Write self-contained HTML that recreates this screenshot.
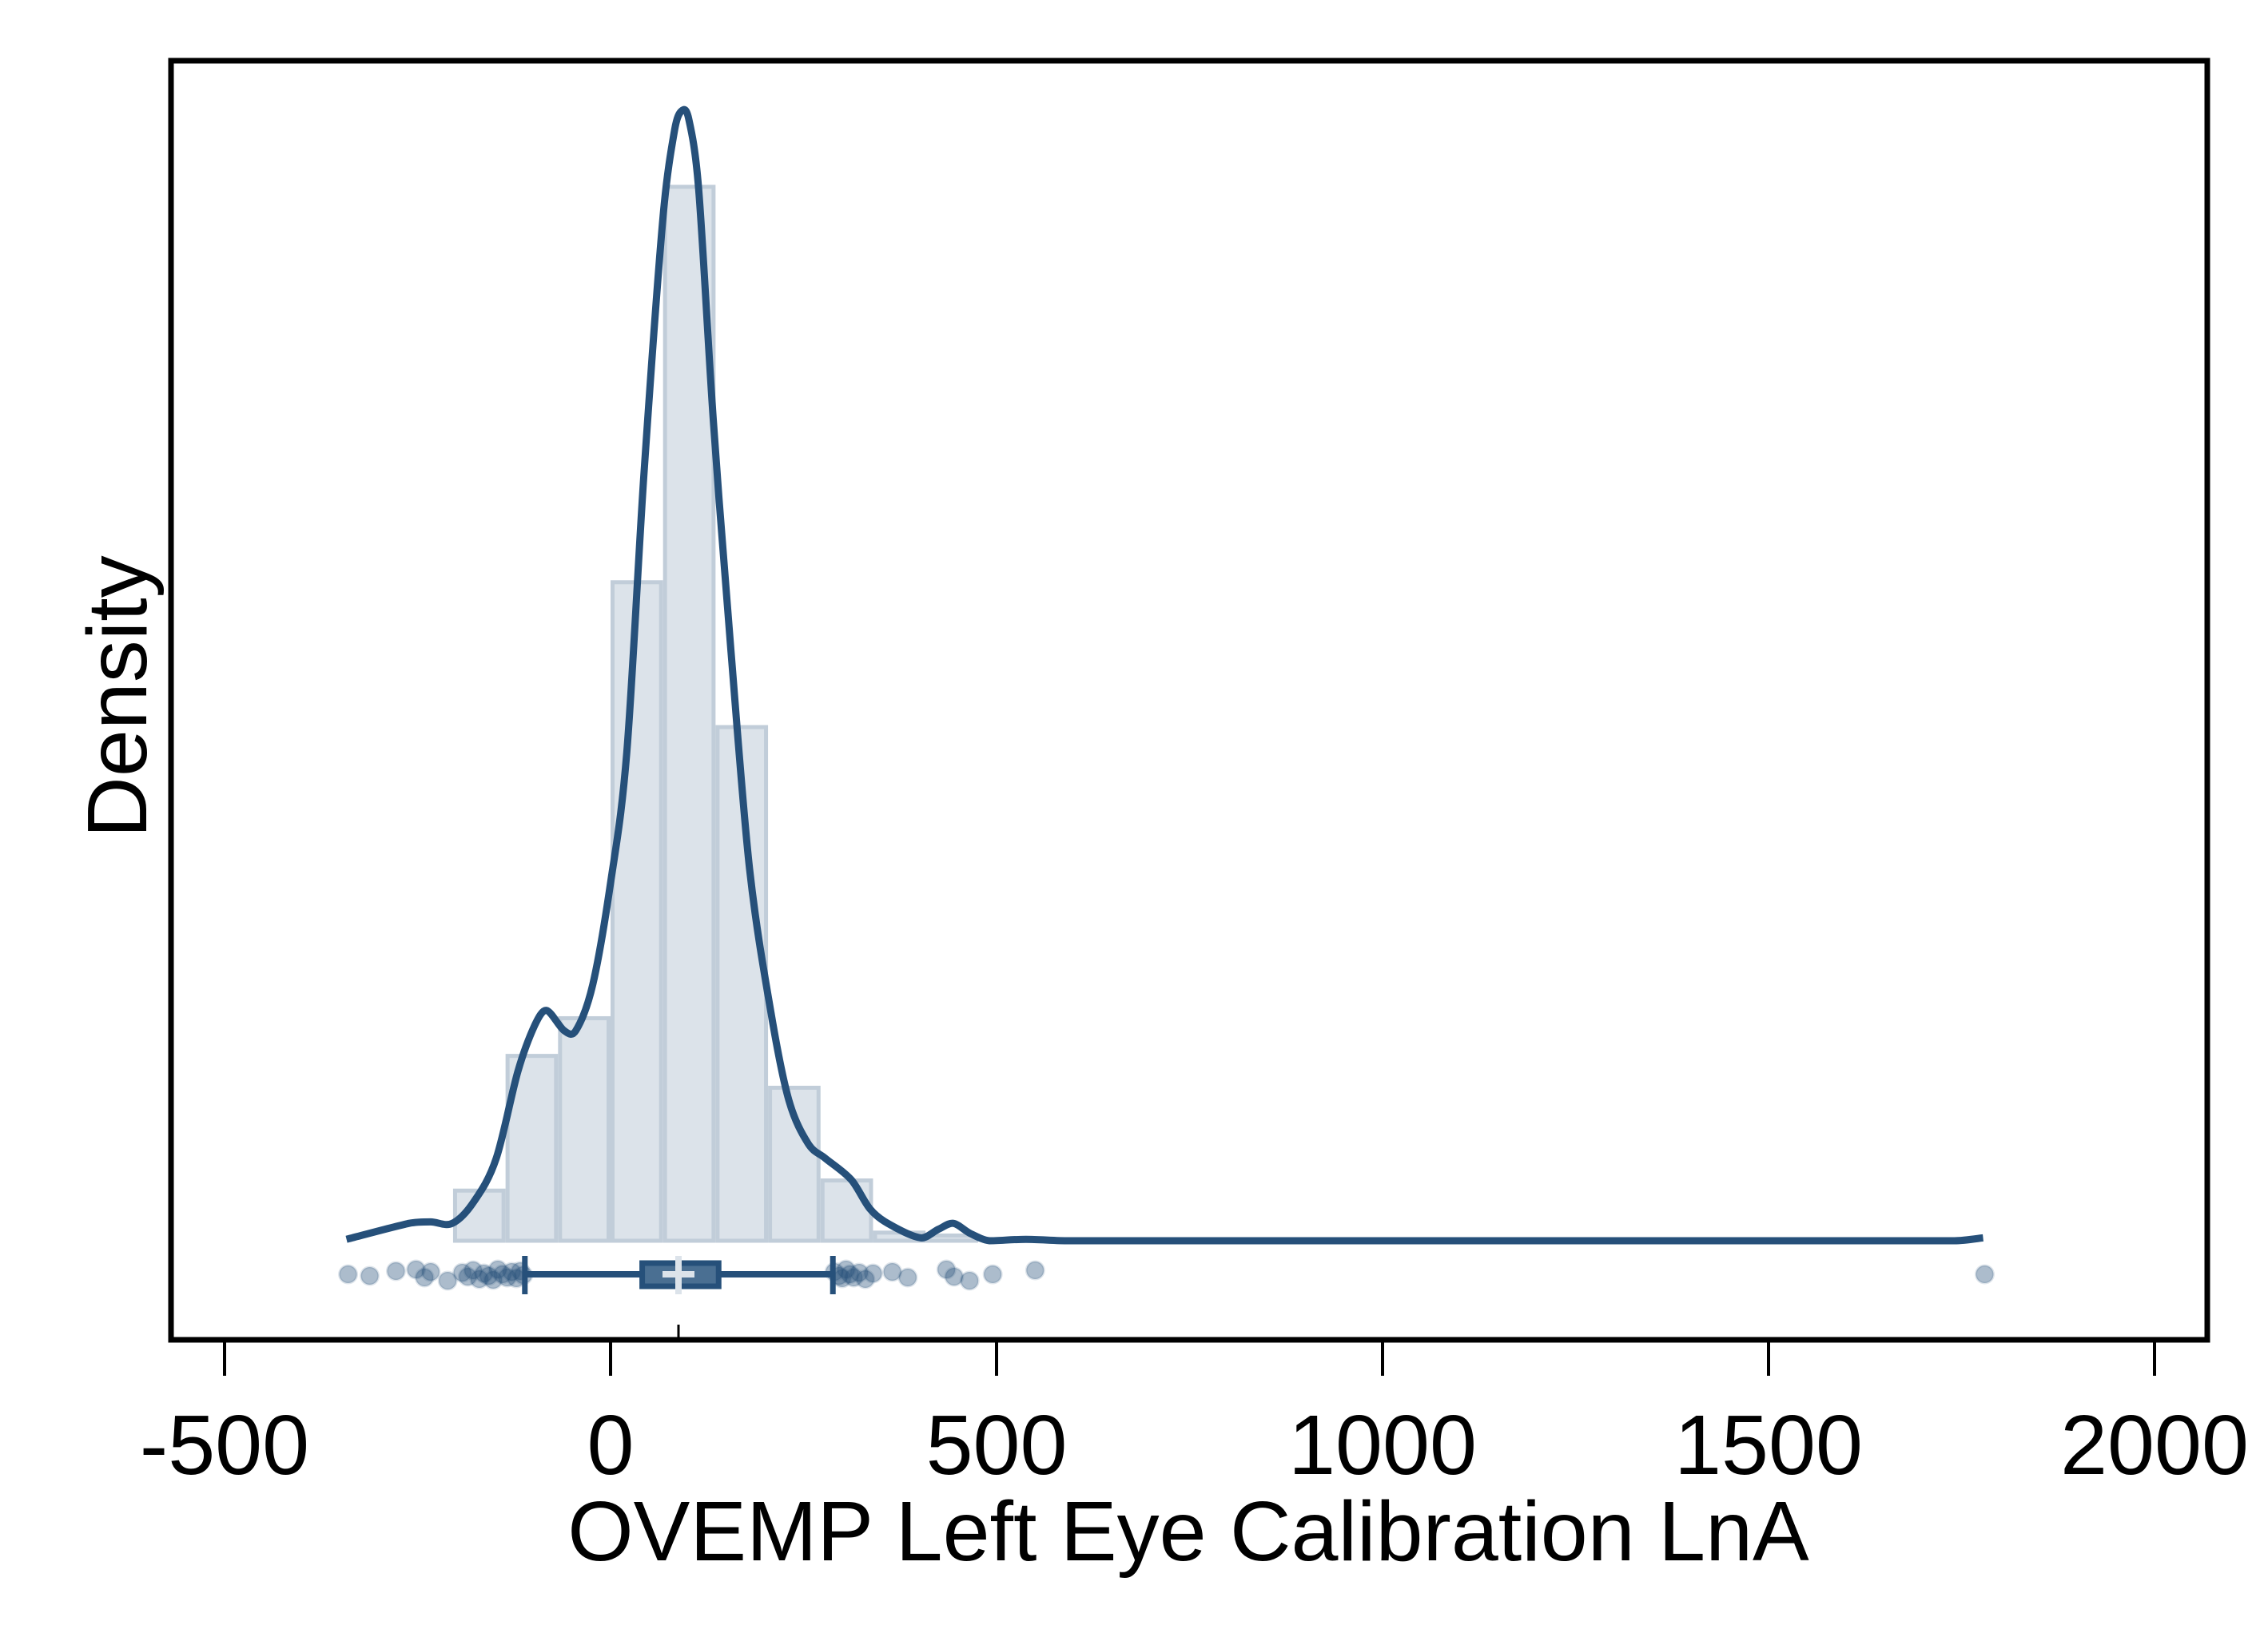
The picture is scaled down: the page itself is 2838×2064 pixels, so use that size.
<!DOCTYPE html>
<html><head><meta charset="utf-8"><style>
html,body{margin:0;padding:0;background:#fff;}
svg{display:block;font-family:"Liberation Sans",Arial,sans-serif;}
</style></head><body>
<svg id="chart" width="2838" height="2064" viewBox="0 0 2838 2064" xmlns="http://www.w3.org/2000/svg">
<rect x="0" y="0" width="2838" height="2064" fill="#fff"/>
<g id="bars"></g>
<g id="curve"></g>
<g id="strip"></g>
<g id="box"></g>
<rect x="214" y="76" width="2548" height="1601" fill="none" stroke="#000" stroke-width="7"/>
<g id="xaxis"></g>
<text x="1487" y="1953" font-size="106" text-anchor="middle" fill="#000">OVEMP Left Eye Calibration LnA</text>
<text transform="translate(183,872) rotate(-90)" font-size="106" text-anchor="middle" fill="#000">Density</text>
</svg>
<script>
const binEdges = [-272,-204,-136,-68,0,68,136,204,272,340,408,476];
const binDensity = [0.00001,0.00036,0.00129,0.00155,0.00456,0.00729,0.00356,0.00107,0.00043,0.00007,0.00005];
const kdeX = [-342,-261,-233,-205,-177,-148,-120,-98,-83,-60,-45,-23,0,21,43,68,83,92,101,114,133,156,180,208,231,256,278,312,336,359,402,425,444,466,491,538,594,1741,1778];
const kdeY = [0.00001,0.00012,0.00013,0.00012,0.00027,0.00057,0.00117,0.00149,0.00159,0.00145,0.00145,0.00177,0.00247,0.00337,0.00527,0.00707,0.00767,0.00780,0.00775,0.00727,0.00567,0.00407,0.00257,0.00157,0.00097,0.00067,0.00057,0.00042,0.00022,0.00012,0.00002,0.00008,0.00012,0.00005,0.0,0.00001,0.0,0.0,0.00002];
const pointsX = [-340,-312,-278,-252,-241,-233,-211,-192,-185,-178,-170,-164,-158,-152,-146,-140,-134,-128,-122,-117,-113,290,296,300,305,310,315,322,330,340,365,385,435,445,465,495,550,1780];
const pointsJitter = [0,2,-4,-6,4,-3,8,-2,3,-5,6,-1,2,7,-6,0,4,-3,5,-4,1,-3,2,5,-6,0,4,-2,6,-1,-3,4,-6,3,8,0,-5,0];
const boxStats = {lowWhisker:-111, q1:41, median:88, q3:140, highWhisker:288};
const xTicks = [-500,0,500,1000,1500,2000];

const X0 = 764, PXU = 0.966, BASE = 1553, YK = 181300;
const xs = v => X0 + v*PXU;
const ys = d => BASE - d*YK;
const NS = "http://www.w3.org/2000/svg";
function mk(tag, parent, attrs){const e=document.createElementNS(NS,tag);for(const k in attrs)e.setAttribute(k,attrs[k]);parent.appendChild(e);return e;}

const gb = document.getElementById('bars');
binDensity.forEach((d,i)=>{
  const x1=xs(binEdges[i]), x2=xs(binEdges[i+1]);
  const r=mk('rect',gb,{x:x1+2.5,y:ys(d)+2.5,width:x2-x1-5,height:Math.max(0,BASE-ys(d)-2.5),fill:'#dce3ea',stroke:'#c1cdd9','stroke-width':5});
  
  
});

const gc = document.getElementById('curve');
const P = kdeX.map((x,i)=>[xs(x), ys(kdeY[i])]);
let dstr = 'M'+P[0][0].toFixed(1)+' '+P[0][1].toFixed(1);
const clamp=(v,a,b)=>Math.max(Math.min(a,b),Math.min(Math.max(a,b),v));
for(let i=0;i<P.length-1;i++){
  const p0=P[Math.max(0,i-1)], p1=P[i], p2=P[i+1], p3=P[Math.min(P.length-1,i+2)];
  const seg=p2[0]-p1[0];
  let t1=(p2[0]-p0[0])/6, t2=(p3[0]-p1[0])/6;
  const s1=Math.min(1, seg/3/Math.max(t1,1e-6)), s2=Math.min(1, seg/3/Math.max(t2,1e-6));
  const c1=[p1[0]+t1*s1, p1[1]+(p2[1]-p0[1])/6*s1];
  const c2=[p2[0]-t2*s2, p2[1]-(p3[1]-p1[1])/6*s2];
  c1[1]=Math.min(c1[1],BASE); c2[1]=Math.min(c2[1],BASE);
  dstr+=` C${c1[0].toFixed(1)} ${c1[1].toFixed(1)} ${c2[0].toFixed(1)} ${c2[1].toFixed(1)} ${p2[0].toFixed(1)} ${p2[1].toFixed(1)}`;
}
const p = mk('path',gc,{d:dstr,fill:'none',stroke:'#26507a','stroke-width':9,'stroke-linejoin':'round'});



const gs = document.getElementById('strip');
pointsX.forEach((v,i)=>{
  const c=mk('circle',gs,{cx:xs(v),cy:1595+pointsJitter[i],r:11,fill:'rgba(38,80,122,0.38)',stroke:'rgba(38,80,122,0.15)','stroke-width':3});
  
  
});

const gx = document.getElementById('box');
const col='#26507a';
let e;
e=mk('line',gx,{x1:xs(boxStats.lowWhisker),x2:xs(boxStats.q1),y1:1595,y2:1595,stroke:col,'stroke-width':8});


e=mk('line',gx,{x1:xs(boxStats.q3),x2:xs(boxStats.highWhisker),y1:1595,y2:1595,stroke:col,'stroke-width':8});


e=mk('line',gx,{x1:xs(boxStats.lowWhisker),x2:xs(boxStats.lowWhisker),y1:1572,y2:1620,stroke:col,'stroke-width':7});


e=mk('line',gx,{x1:xs(boxStats.highWhisker),x2:xs(boxStats.highWhisker),y1:1572,y2:1620,stroke:col,'stroke-width':7});


e=mk('rect',gx,{x:xs(boxStats.q1),y:1581,width:xs(boxStats.q3)-xs(boxStats.q1),height:29,fill:'#4a6f92',stroke:col,'stroke-width':7});


e=mk('line',gx,{x1:xs(boxStats.median),x2:xs(boxStats.median),y1:1572,y2:1620,stroke:'#dce3ea','stroke-width':8});


e=mk('line',gx,{x1:xs(boxStats.median)-20,x2:xs(boxStats.median)+20,y1:1595,y2:1595,stroke:'#dce3ea','stroke-width':8});


e=mk('line',gx,{x1:xs(boxStats.median),x2:xs(boxStats.median),y1:1658,y2:1677,stroke:'#000','stroke-width':3});



const ga = document.getElementById('xaxis');
xTicks.forEach(t=>{
  const l=mk('line',ga,{x1:xs(t),x2:xs(t),y1:1677,y2:1722,stroke:'#000','stroke-width':4});
  
  
  const tx=mk('text',ga,{x:xs(t),y:1845,'font-size':106,'text-anchor':'middle',fill:'#000'});
  tx.textContent=String(t);
  
  
});
</script>
</body></html>
